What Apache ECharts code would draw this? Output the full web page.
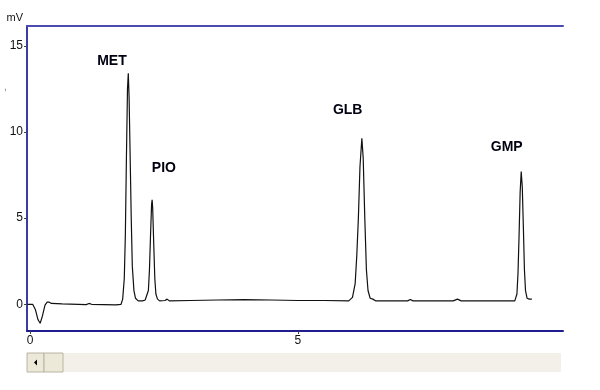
<!DOCTYPE html>
<html>
<head>
<meta charset="utf-8">
<script src="https://cdn.jsdelivr.net/npm/echarts@6/dist/echarts.min.js"></script>
<style>html,body{margin:0;padding:0;background:#fff;}#c{width:600px;height:390px;}</style>
</head>
<body>
<div id="c"></div>
<script>
// Retention time (min) of the trace points
var traceTime = [
  -0.05, 0.05, 0.10, 0.15, 0.19, 0.23, 0.28, 0.32, 0.36, 0.40, 0.60, 0.90, 1.05, 1.10, 1.15, 1.60,
  1.70, 1.73, 1.76, 1.78, 1.80, 1.82, 1.835, 1.85, 1.87, 1.89, 1.91, 1.94, 1.97, 2.02, 2.10, 2.15,
  2.18, 2.21, 2.23, 2.25, 2.27, 2.28, 2.29, 2.31, 2.33, 2.35, 2.38, 2.42, 2.52, 2.56, 2.60,
  3.00, 3.50, 4.00, 4.50, 5.00, 5.50, 5.95,
  6.02, 6.07, 6.10, 6.13, 6.16, 6.195, 6.22, 6.25, 6.28, 6.31, 6.35, 6.40, 6.45,
  7.05, 7.10, 7.15, 7.90, 7.98, 8.05, 8.90,
  9.05, 9.09, 9.11, 9.13, 9.15, 9.17, 9.19, 9.21, 9.23, 9.25, 9.28, 9.32, 9.37
];
// Detector signal (mV) at those times
var traceSignal = [
  0.00, 0.00, -0.30, -0.90, -1.10, -0.70, -0.05, 0.12, 0.12, 0.05, 0.02, 0.00, -0.02, 0.05, 0.00, -0.03,
  0.00, 0.30, 1.50, 4.00, 8.50, 12.50, 13.40, 12.00, 8.50, 5.00, 2.20, 0.80, 0.35, 0.20, 0.20, 0.25,
  0.30, 0.80, 2.00, 4.00, 5.80, 6.07, 5.60, 3.50, 1.50, 0.60, 0.30, 0.20, 0.22, 0.30, 0.20,
  0.22, 0.25, 0.27, 0.25, 0.22, 0.22, 0.20,
  0.40, 1.20, 2.80, 5.00, 8.00, 9.63, 8.50, 5.00, 2.00, 0.80, 0.35, 0.30, 0.20,
  0.20, 0.28, 0.20, 0.20, 0.30, 0.20, 0.20,
  0.20, 0.60, 1.80, 4.00, 6.50, 7.70, 6.80, 4.50, 2.00, 0.80, 0.35, 0.30, 0.30
];
// Peak annotations
var peakNames = ["MET", "PIO", "GLB", "GMP"];
var peakLabelTime = [1.53, 2.50, 5.93, 8.90];
var peakLabelSignal = [14.1, 7.9, 11.25, 9.1];
// Tick labels
var yTicks = [0, 5, 10, 15];
var xTicks = [0, 5];

var trace = traceTime.map(function (t, i) { return [t, traceSignal[i]]; });
var labels = peakNames.map(function (n, i) { return { value: [peakLabelTime[i], peakLabelSignal[i]], name: n }; });

var axisBlue = '#3b3ba6';
var chart = echarts.init(document.getElementById('c'), null, { renderer: 'canvas' });
chart.setOption({
  animation: false,
  backgroundColor: '#ffffff',
  grid: { left: 27, top: 26, right: 37, bottom: 59, containLabel: false },
  xAxis: [{
    type: 'value', min: -0.056, max: 9.95, position: 'bottom',
    axisLine: { show: true, onZero: false, lineStyle: { color: '#1e1e8c', width: 2 } },
    axisTick: { show: true, length: 3, customValues: xTicks, lineStyle: { color: '#444' } },
    axisLabel: { customValues: xTicks, color: '#111', fontFamily: 'Liberation Sans', fontSize: 12, margin: 4 },
    splitLine: { show: false }
  }, {
    type: 'value', min: -0.056, max: 9.95, position: 'top',
    axisLine: { show: true, onZero: false, lineStyle: { color: '#4a4ab0', width: 2 } },
    axisTick: { show: false }, axisLabel: { show: false }, splitLine: { show: false }
  }],
  yAxis: {
    type: 'value', min: -1.55, max: 16.15,
    name: 'mV', nameLocation: 'end', nameGap: 8,
    nameTextStyle: { color: '#111', fontFamily: 'Liberation Sans', fontSize: 11, align: 'right', verticalAlign: 'middle', padding: [0, 4, 0, 0] },
    axisLine: { show: true, onZero: false, lineStyle: { color: axisBlue, width: 2 } },
    axisTick: { show: true, length: 3, customValues: yTicks, lineStyle: { color: '#444' } },
    axisLabel: { customValues: yTicks, color: '#111', fontFamily: 'Liberation Sans', fontSize: 12, margin: 4 },
    splitLine: { show: false }
  },
  series: [{
    type: 'line', data: trace, showSymbol: false, smooth: false,
    lineStyle: { color: '#111111', width: 1.2 }, z: 3
  }, {
    type: 'scatter', data: labels, symbolSize: 0, silent: true,
    itemStyle: { opacity: 1, color: '#000' },
    label: {
      show: true, position: 'inside', formatter: function (p) { return p.name; },
      fontFamily: 'Liberation Sans', fontWeight: 'bold', fontSize: 14, color: '#000010',
      textBorderWidth: 0, textShadowBlur: 0, opacity: 1
    }
  }],
  graphic: [
    { type: 'text', left: 4, top: 82, style: { text: ',', fill: '#888', font: '10px Liberation Sans' } },
    { type: 'rect', shape: { x: 27, y: 353, width: 534, height: 19 }, style: { fill: '#f2f0e8' } },
    { type: 'rect', shape: { x: 27, y: 353, width: 17, height: 19 }, style: { fill: '#ece9d8', stroke: '#b8b4a4', lineWidth: 1 } },
    { type: 'rect', shape: { x: 44, y: 353, width: 19, height: 19 }, style: { fill: '#ece9d8', stroke: '#b8b4a4', lineWidth: 1 } },
    { type: 'polygon', shape: { points: [[34, 362.5], [37, 359.5], [37, 365.5]] }, style: { fill: '#000' } }
  ]
});
</script>
</body>
</html>
